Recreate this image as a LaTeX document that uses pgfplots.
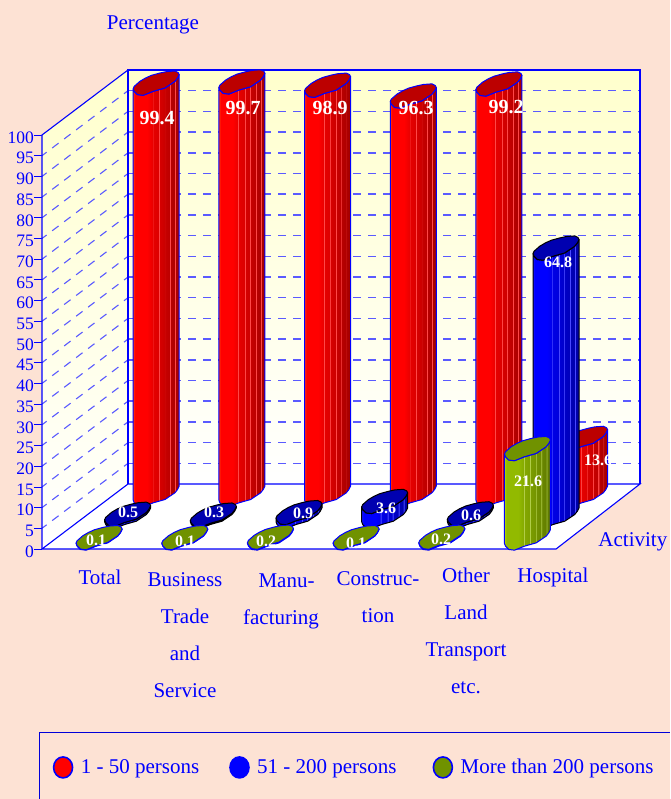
\documentclass[border=0pt]{standalone}
\usepackage{fontspec}
\setmainfont{Liberation Serif}
\usepackage{pgfplots}
\usepackage{pgfplotstable}
\pgfplotsset{compat=1.18}
\definecolor{pagebg}{RGB}{253,226,212}
\definecolor{wally}{RGB}{255,255,204}
\definecolor{gridb}{RGB}{90,90,255}
\definecolor{redB}{RGB}{255,0,0}\definecolor{redL}{RGB}{255,50,10}\definecolor{redT}{RGB}{188,0,0}
\definecolor{bluB}{RGB}{0,0,255}\definecolor{bluL}{RGB}{20,20,255}\definecolor{bluT}{RGB}{0,0,176}
\definecolor{greB}{RGB}{146,186,0}\definecolor{greL}{RGB}{175,215,10}\definecolor{greT}{RGB}{112,146,0}
\newcommand\defcyl[3]{%
\pgfdeclarehorizontalshading{#1}{100bp}{color(0bp)=(#3); color(25bp)=(#3); color(27bp)=(#2); color(40bp)=(#2);
color(45.5bp)=(#2!92!black); color(45.6bp)=(#2!72!white); color(46.4bp)=(#2!72!white); color(46.5bp)=(#2!90!black);
color(52.5bp)=(#2!86!black); color(52.6bp)=(#2!72!white); color(53.4bp)=(#2!72!white); color(53.5bp)=(#2!84!black);
color(58.5bp)=(#2!80!black); color(58.6bp)=(#2!72!white); color(59.4bp)=(#2!72!white); color(59.5bp)=(#2!78!black);
color(64.5bp)=(#2!74!black); color(64.6bp)=(#2!72!white); color(65.4bp)=(#2!72!white); color(65.5bp)=(#2!72!black);
color(70bp)=(#2!68!black); color(70.1bp)=(#2!72!white); color(70.9bp)=(#2!72!white); color(71bp)=(#2!68!black);
color(75bp)=(#2!62!black); color(100bp)=(#2!62!black)}}
\defcyl{redcyl}{redB}{redL}
\defcyl{blucyl}{bluB}{bluL}
\defcyl{grecyl}{greB}{greL}
% values, per activity
\pgfplotstableread{
i red blue green
0 99.4 0.5 0.1
1 99.7 0.3 0.1
2 98.9 0.9 0.2
3 96.3 3.6 0.1
4 99.2 0.6 0.2
5 13.6 64.8 21.6
}\datatbl
% outline of a cylinder: offsets in pixels from the centre of its end
\pgfplotstableread{
c s h
-23 -5.3 0
-22 -8 0
-18.7 -11.3 0
-13 -12 0
-3 -8 0
8.7 -4.7 0
18.7 2 0
21.3 5.3 0
23 8.7 0
23 8.7 1
21.3 5.3 1
18.7 2 1
8.7 -4.7 1
-3 -8 1
-13 -12 1
-18.7 -11.3 1
-22 -8 1
-23 -5.3 1
}\bodytbl
\pgfplotstableread{
c s
-23 -5.3
-22 -3
-16.3 2
-10.7 5.3
-4.7 8
3.7 10.3
10.3 11.7
18.7 12.3
22 10.7
23 8.7
21.3 5.3
18.7 2
8.7 -4.7
-3 -8
-13 -12
-18.7 -11.3
-22 -8
}\toptbl
\newcommand\cyl[6]{%
\addplot[forget plot,draw=#6,line width=1pt,line join=round,shade,shading=#4] table[
 x expr=#1+.5+#2+\thisrow{c}/85.67,
 y expr=#3*\thisrow{h}+15.7*#2+\thisrow{s}/4.14] {\bodytbl} --cycle;
\addplot[forget plot,draw=#6,line width=1pt,line join=round,fill=#5] table[
 x expr=#1+.5+#2+\thisrow{c}/85.67,
 y expr=#3+15.7*#2+\thisrow{s}/4.14] {\toptbl} --cycle;
}
\newcommand\lbl[4]{\node[text=white,font=\fontsize{#3}{#3}\selectfont\bfseries,inner sep=0pt] at ({(#1-42)*1pt},{(549-#2)*1pt}) {#4};}
\newcommand\sk[1]{\rule{0pt}{\dimexpr14.3pt+#1pt\relax}}
\begin{document}
\begin{tikzpicture}[x=1pt,y=1pt]
\useasboundingbox (-42,-250) rectangle (628,549);
\fill[pagebg] (-42,-250) rectangle (628,549);
\begin{axis}[
 at={(0,0)},anchor=south west,
 scale only axis,width=598pt,height=479pt,
 xmin=0,xmax=6.98,ymin=0,ymax=115.7,
 clip=false,
 axis x line*=bottom,axis y line*=left,
 x axis line style={draw=none},y axis line style={draw=none},
 ytick={0,5,...,100},
 xtick={0.6771,1.6693,2.7899,3.9221,4.9492,5.9638},
 xticklabels={\sk{2.5}Total,{\sk{4.5}Business\\Trade\\and\\Service},{\sk{5.5}\hspace*{11pt}Manu-\\facturing},{\sk{3.5}Construc-\\tion},{Other\\Land\\Transport\\etc.},{\sk{0.5}Hospital}},
 major x tick style={draw=none},
 major y tick style={blue,line width=.8pt},
 tick align=outside,major tick length=8pt,
 /pgf/number format/assume math mode=true,
 yticklabel style={text=blue,font=\fontsize{17.5}{18}\selectfont,inner xsep=0pt,yshift=-2.5pt},
 xticklabel style={text=blue,align=center,anchor=north,yshift=-7.5pt,font=\fontsize{21}{37}\selectfont},
 xlabel={Activity},ylabel={Percentage},
 every axis x label/.style={at={(axis description cs:.988,.0146)},anchor=center,text=blue,font=\fontsize{21}{24}\selectfont},
 every axis y label/.style={at={(axis description cs:.1856,1.094)},anchor=center,text=blue,font=\fontsize{21}{24}\selectfont},
 legend style={at={(axis description cs:.0177,-.456)},anchor=west,draw=none,fill=none,text=blue,
   font=\fontsize{21}{24}\selectfont,legend columns=3,inner sep=0pt,
   /tikz/every even column/.append style={column sep=28pt}},
 legend cell align=left,
]
% legend
\addlegendimage{legend image code/.code={\draw[blue,line width=1.6pt,fill=redB] (0pt,0pt) ellipse (9.5pt and 10.5pt); \path (15.5pt,0pt);}}
\addlegendentry{1 - 50 persons}
\addlegendimage{legend image code/.code={\draw[blue,line width=1.6pt,fill=blue] (0pt,0pt) ellipse (9.5pt and 10.5pt); \path (15.5pt,0pt);}}
\addlegendentry{51 - 200 persons\hspace*{6pt}}
\addlegendimage{legend image code/.code={\draw[blue,line width=1.6pt,fill=greT] (0pt,0pt) ellipse (9.5pt and 10.5pt); \path (15.5pt,0pt);}}
\addlegendentry{More than 200 persons}
% walls and floor
\fill[white] (axis cs:0,0) -- (axis cs:6,0) -- (axis cs:6.98,15.7) -- (axis cs:1.004,15.7) -- cycle;
\shade[top color=wally,bottom color=white] (axis cs:1.004,15.7) rectangle (axis cs:6.98,115.7);
\shade[top color=wally,bottom color=white] (axis cs:0,0) -- (axis cs:1.004,15.7) -- (axis cs:1.004,115.7) -- (axis cs:0,100) -- cycle;
% grid
\pgfplotsinvokeforeach{5,10,...,95}{%
 \draw[gridb,line width=1.5pt,dash pattern=on 8pt off 7pt] (axis cs:1.004,{#1+15.7}) -- (axis cs:6.98,{#1+15.7});
 \draw[gridb,line width=1.1pt,dash pattern=on 8pt off 7pt,dash phase=3pt] (axis cs:1.004,{#1+15.7}) -- (axis cs:0,#1);
}
% frame
\draw[blue,line width=1.1pt] (axis cs:0,0) -- (axis cs:6,0) -- (axis cs:6.98,15.7) -- (axis cs:1.004,15.7) -- cycle;
\draw[blue,line width=1.1pt] (axis cs:1.004,15.7) -- (axis cs:1.004,115.7) -- (axis cs:6.98,115.7) -- (axis cs:6.98,15.7);
\draw[blue,line width=1.1pt] (axis cs:0,0) -- (axis cs:0,100) -- (axis cs:1.004,115.7);
% cylinders, back row to front row
\pgfplotsforeachungrouped \i in {0,...,5}{%
 \pgfplotstablegetelem{\i}{red}\of\datatbl
 \edef\tmp{\noexpand\cyl{\i}{.8333}{\pgfplotsretval}{redcyl}{redT}{blue}}\tmp
}
\pgfplotsforeachungrouped \i in {0,...,5}{%
 \pgfplotstablegetelem{\i}{blue}\of\datatbl
 \edef\tmp{\noexpand\cyl{\i}{.5}{\pgfplotsretval}{blucyl}{bluT}{black}}\tmp
}
\pgfplotsforeachungrouped \i in {0,...,5}{%
 \pgfplotstablegetelem{\i}{green}\of\datatbl
 \edef\tmp{\noexpand\cyl{\i}{.1667}{\pgfplotsretval}{grecyl}{greT}{blue}}\tmp
}
\end{axis}
% value labels
\lbl{157}{118}{20}{99.4}
\lbl{243}{108}{20}{99.7}
\lbl{330}{108}{20}{98.9}
\lbl{416}{108}{20}{96.3}
\begin{scope}
\clip (0,0) rectangle (480,549);
\lbl{506}{107}{20}{99.2}
\end{scope}
\lbl{558}{262}{16}{64.8}
\lbl{528}{481}{16}{21.6}
\begin{scope}
\clip (0,0) rectangle (568,549);
\lbl{598}{460}{16}{13.6}
\end{scope}
\lbl{128}{512}{16}{0.5}
\lbl{214}{512}{16}{0.3}
\lbl{303}{513}{16}{0.9}
\lbl{386}{508}{16}{3.6}
\lbl{471}{515}{16}{0.6}
\lbl{96}{540}{16}{0.1}
\lbl{185}{541}{16}{0.1}
\lbl{266}{541}{16}{0.2}
\lbl{356}{543}{16}{0.1}
\lbl{441}{539}{16}{0.2}
% legend box
\draw[blue!85!black,line width=1pt] (-3,-249.9) -- (-3,-183) -- (628,-183);
\end{tikzpicture}
\end{document}
